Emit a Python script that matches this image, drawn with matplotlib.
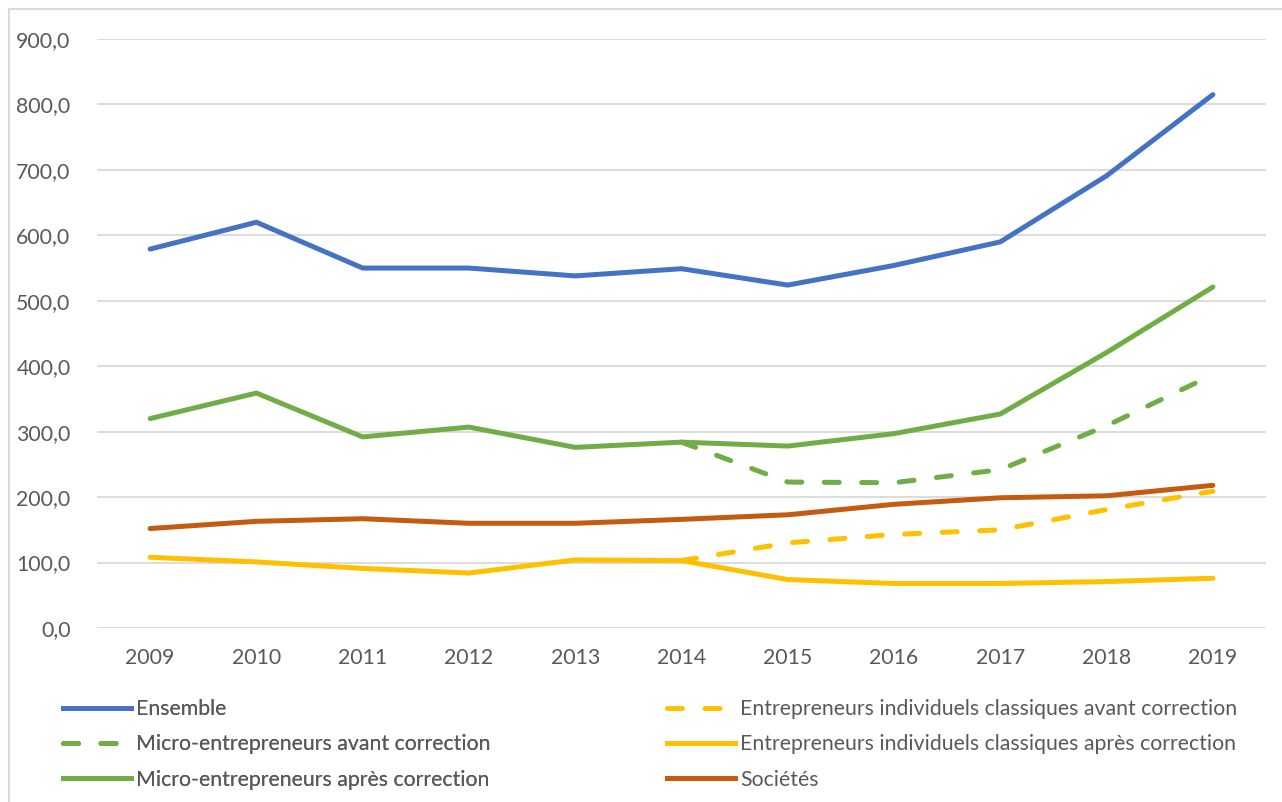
import numpy as np
import matplotlib.pyplot as plt
from matplotlib.lines import Line2D

years = [2009, 2010, 2011, 2012, 2013, 2014, 2015, 2016, 2017, 2018, 2019]
ensemble = [579, 620, 550, 550, 538, 549, 524, 554, 590, 691, 815]
micro_avant = [np.nan] * 5 + [284, 223, 222, 242, 309, 387]
micro_apres = [320, 359, 292, 307, 276, 284, 278, 297, 327, 421, 521]
ei_avant = [np.nan] * 5 + [103, 130, 143, 150, 181, 209]
ei_apres = [108, 101, 91, 84, 104, 103, 74, 68, 68, 71, 76]
societes = [152, 163, 167, 160, 160, 166, 173, 189, 199, 202, 218]

labels = ['Ensemble',
          'Micro-entrepreneurs avant correction',
          'Micro-entrepreneurs après correction',
          'Entrepreneurs individuels classiques avant correction',
          'Entrepreneurs individuels classiques après correction',
          'Sociétés']

blue = '#4472C4'
green = '#70AD47'
yellow = '#FFC000'
orange = '#C55A11'
grey_text = '#595959'

plt.rcParams['font.family'] = ['Lato', 'DejaVu Sans']
fs = 15.3

fig = plt.figure(figsize=(12.82, 8.02), dpi=100)
ax = fig.add_axes([97 / 1282, 1 - 628 / 802, (1266 - 97) / 1282, (628 - 39) / 802])

lw = 3.6
dash = dict(linestyle=(0, (3, 4.5)), dash_capstyle='round')
ax.plot(years, ensemble, color=blue, lw=lw, solid_capstyle='round')
ax.plot(years, ei_avant, color=yellow, lw=lw, **dash)
ax.plot(years, micro_avant, color=green, lw=lw, **dash)
ax.plot(years, ei_apres, color=yellow, lw=lw, solid_capstyle='round')
ax.plot(years, micro_apres, color=green, lw=lw, solid_capstyle='round')
ax.plot(years, societes, color=orange, lw=lw, solid_capstyle='round')

ax.set_xlim(2008.5, 2019.5)
ax.set_ylim(0, 900)
ax.set_xticks(years)
ax.set_yticks(range(0, 1000, 100))
ax.set_yticklabels([f'{v},0' for v in range(0, 1000, 100)])
ax.tick_params(length=0, labelsize=fs, colors=grey_text)
ax.tick_params(axis='y', pad=19)
ax.tick_params(axis='x', pad=14.5)
ax.grid(axis='y', color='#D9D9D9', lw=1.3)
ax.set_axisbelow(True)
for s in ax.spines.values():
    s.set_visible(False)

handles = [
    Line2D([], [], color=blue, lw=lw),
    Line2D([], [], color=green, lw=lw, **dash),
    Line2D([], [], color=green, lw=lw),
    Line2D([], [], color=yellow, lw=lw, **dash),
    Line2D([], [], color=yellow, lw=lw),
    Line2D([], [], color=orange, lw=lw),
]
leg_opts = dict(ncol=1, frameon=False, loc='upper left', handlelength=3.2,
                handletextpad=0.25, labelspacing=0.72, fontsize=fs,
                labelcolor=grey_text, borderaxespad=0, borderpad=0)
leg1 = fig.legend(handles[:3], labels[:3],
                  bbox_to_anchor=(63 / 1282, 1 - 699 / 802), **leg_opts)
fig.add_artist(leg1)
fig.legend(handles[3:], labels[3:],
           bbox_to_anchor=(667 / 1282, 1 - 699 / 802), **leg_opts)

# chart border (top and left visible)
fig.add_artist(Line2D([9 / 1282, 9 / 1282], [0, 1 - 9 / 802], color='#D9D9D9', lw=1.5))
fig.add_artist(Line2D([9 / 1282, 1], [1 - 9 / 802, 1 - 9 / 802], color='#D9D9D9', lw=1.5))

fig.savefig('out.png', dpi=100)
